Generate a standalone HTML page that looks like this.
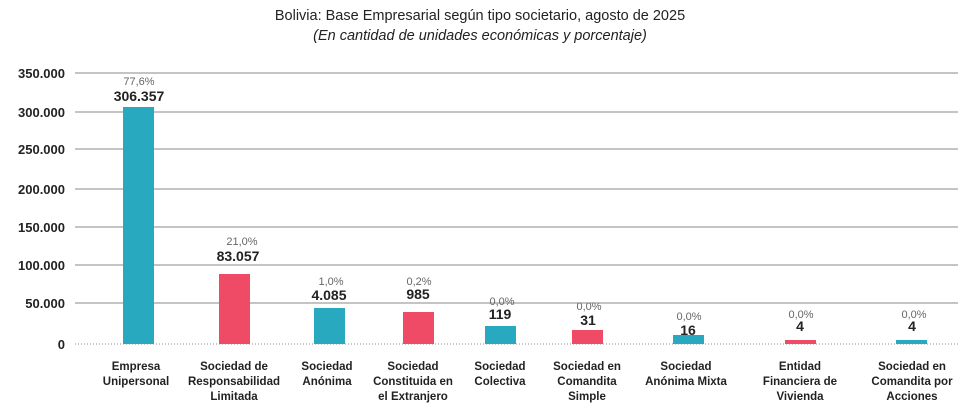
<!DOCTYPE html>
<html><head><meta charset="utf-8"><style>
body{margin:0;width:960px;height:410px;background:#fff;overflow:hidden;font-family:"Liberation Sans",sans-serif;}
svg text{font-family:"Liberation Sans",sans-serif;}
</style></head><body>
<svg width="960" height="410" xmlns="http://www.w3.org/2000/svg">
<rect width="960" height="410" fill="#fff"/>
<text x="480" y="20" text-anchor="middle" font-size="14.5" fill="#222">Bolivia: Base Empresarial según tipo societario, agosto de 2025</text>
<text x="480" y="40" text-anchor="middle" font-size="14.5" font-style="italic" fill="#222">(En cantidad de unidades económicas y porcentaje)</text>
<g stroke="#8a8a8a" stroke-width="1">
<line x1="75" y1="73" x2="958" y2="73"/><line x1="75" y1="112" x2="958" y2="112"/><line x1="75" y1="149" x2="958" y2="149"/><line x1="75" y1="189" x2="958" y2="189"/><line x1="75" y1="227" x2="958" y2="227"/><line x1="75" y1="265" x2="958" y2="265"/><line x1="75" y1="303" x2="958" y2="303"/>
</g>
<line x1="75" y1="344" x2="958" y2="344" stroke="#888" stroke-dasharray="1,2"/>
<g font-size="13" font-weight="bold" fill="#222" text-anchor="end">
<text x="65" y="78">350.000</text><text x="65" y="117">300.000</text><text x="65" y="154">250.000</text><text x="65" y="194">200.000</text><text x="65" y="232">150.000</text><text x="65" y="270">100.000</text><text x="65" y="308">50.000</text><text x="65" y="349">0</text>
</g>
<g>
<rect x="123" y="107" width="31" height="237" fill="#29a9c0"/>
<rect x="219" y="274" width="31" height="70" fill="#ef4a66"/>
<rect x="314" y="308" width="31" height="36" fill="#29a9c0"/>
<rect x="403" y="312" width="31" height="32" fill="#ef4a66"/>
<rect x="485" y="326" width="31" height="18" fill="#29a9c0"/>
<rect x="572" y="330" width="31" height="14" fill="#ef4a66"/>
<rect x="673" y="335" width="31" height="9" fill="#29a9c0"/>
<rect x="785" y="340" width="31" height="4" fill="#ef4a66"/>
<rect x="896" y="340" width="31" height="4" fill="#29a9c0"/>
</g>
<g font-size="11" fill="#666" text-anchor="middle">
<text x="139" y="85">77,6%</text><text x="242" y="245">21,0%</text><text x="331" y="285">1,0%</text><text x="419" y="285">0,2%</text><text x="502" y="305">0,0%</text><text x="589" y="310">0,0%</text><text x="689" y="320">0,0%</text><text x="801" y="318">0,0%</text><text x="914" y="318">0,0%</text>
</g>
<g font-size="14" font-weight="bold" fill="#222" text-anchor="middle">
<text x="139" y="101">306.357</text><text x="238" y="261">83.057</text><text x="329" y="300">4.085</text><text x="418" y="299">985</text><text x="500" y="319">119</text><text x="588" y="325">31</text><text x="688" y="335">16</text><text x="800" y="331">4</text><text x="912" y="331">4</text>
</g>
<g font-size="11.5" font-weight="bold" fill="#222" text-anchor="middle">
<text x="136" y="370">Empresa</text><text x="136" y="385">Unipersonal</text>
<text x="234" y="370">Sociedad de</text><text x="234" y="385">Responsabilidad</text><text x="234" y="400">Limitada</text>
<text x="327" y="370">Sociedad</text><text x="327" y="385">Anónima</text>
<text x="413" y="370">Sociedad</text><text x="413" y="385">Constituida en</text><text x="413" y="400">el Extranjero</text>
<text x="500" y="370">Sociedad</text><text x="500" y="385">Colectiva</text>
<text x="587" y="370">Sociedad en</text><text x="587" y="385">Comandita</text><text x="587" y="400">Simple</text>
<text x="686" y="370">Sociedad</text><text x="686" y="385">Anónima Mixta</text>
<text x="800" y="370">Entidad</text><text x="800" y="385">Financiera de</text><text x="800" y="400">Vivienda</text>
<text x="912" y="370">Sociedad en</text><text x="912" y="385">Comandita por</text><text x="912" y="400">Acciones</text>
</g>
</svg>
</body></html>
